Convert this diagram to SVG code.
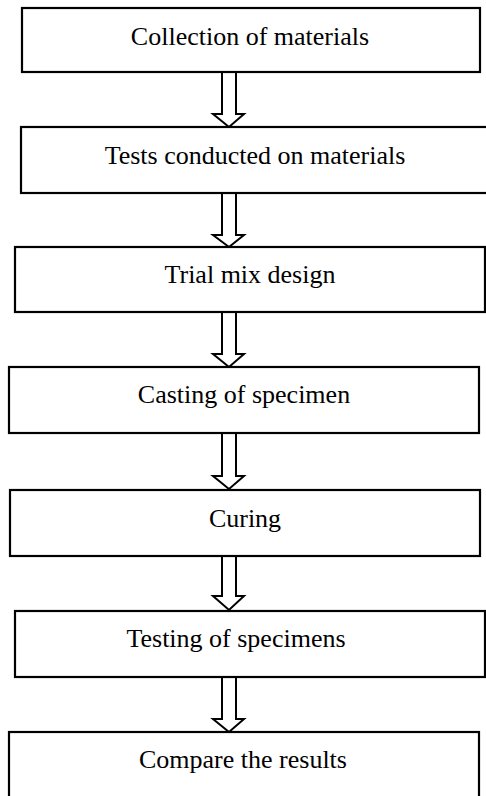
<svg xmlns="http://www.w3.org/2000/svg" width="486" height="796" viewBox="0 0 486 796">
<style>
.box{fill:#fff;stroke:#000;stroke-width:2.2}
.lbl{font-family:"Liberation Serif","Times New Roman",serif;font-size:26px;fill:#000;text-anchor:middle}
.arr{fill:#fff;stroke:#000;stroke-width:2;stroke-linejoin:miter}
</style>
<rect width="486" height="796" fill="#fff"/>
<g id="connectors">
<polygon class="arr" points="222,72 236,72 236,114 244,114 229,127 213,114 222,114"/>
<polygon class="arr" points="222,193 236,193 236,235 244,235 229,247 213,235 222,235"/>
<polygon class="arr" points="222,312 236,312 236,354 244,354 229,367 213,354 222,354"/>
<polygon class="arr" points="222,433 236,433 236,476 244,476 229,489 213,476 222,476"/>
<polygon class="arr" points="222,556 236,556 236,596 244,596 229,610 213,596 222,596"/>
<polygon class="arr" points="222,677 236,677 236,719 244,719 229,732 213,719 222,719"/>
</g>
<g id="n1"><rect class="box" x="22" y="8" width="458" height="64"/><text class="lbl" x="250" y="45">Collection of materials</text></g>
<g id="n2"><rect class="box" x="21" y="127" width="470" height="66"/><text class="lbl" x="255" y="164">Tests conducted on materials</text></g>
<g id="n3"><rect class="box" x="15" y="247" width="470" height="65"/><text class="lbl" x="250" y="283">Trial mix design</text></g>
<g id="n4"><rect class="box" x="9" y="367" width="470" height="66"/><text class="lbl" x="244" y="403">Casting of specimen</text></g>
<g id="n5"><rect class="box" x="10" y="490" width="470" height="66"/><text class="lbl" x="245" y="527">Curing</text></g>
<g id="n6"><rect class="box" x="15" y="611" width="470" height="66"/><text class="lbl" x="236" y="647">Testing of specimens</text></g>
<g id="n7"><rect class="box" x="9" y="732" width="470" height="70"/><text class="lbl" x="243" y="768">Compare the results</text></g>
</svg>
